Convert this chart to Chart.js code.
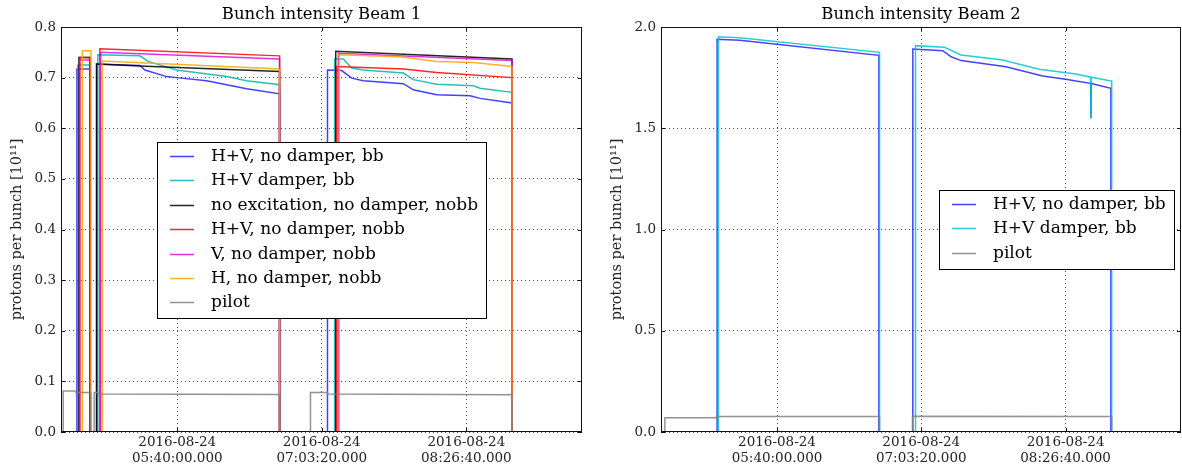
<!DOCTYPE html>
<html>
<head>
<meta charset="utf-8">
<script src="https://cdn.jsdelivr.net/npm/chart.js@4.4.0/dist/chart.umd.min.js"></script>
<style>
  body { margin: 0; background: #fff; }
  .row { display: flex; width: 1182px; height: 470px; }
  canvas { display: block; }
</style>
</head>
<body>
<div class="row">
  <canvas id="beam1" width="600" height="470"></canvas>
  <canvas id="beam2" width="582" height="470"></canvas>
</div>
<script>
// time axis, all times on 2016-08-24
const xRange = ['04:33:00', '09:33:20'];
const xTicks = ['05:40:00', '07:03:20', '08:26:40'];
const tickDate = '2016-08-24';

// Beam 1: [time, protons per bunch in 1e11]
const b1HVNoDamperBB = [
  ['04:34:16', 0], ['04:42:10', 0], ['04:42:10', 0.717], ['04:49:39', 0.717], ['04:49:39', 0],
  ['04:53:31', 0], ['04:53:31', 0.727], ['05:18:29', 0.724], ['05:21:22', 0.715], ['05:33:53', 0.702],
  ['05:39:39', 0.700], ['05:56:57', 0.694], ['06:08:29', 0.686], ['06:20:01', 0.678], ['06:39:00', 0.668],
  ['06:39:00', 0], ['07:06:37', 0], ['07:06:37', 0.715], ['07:14:48', 0.714], ['07:20:34', 0.699],
  ['07:27:16', 0.694], ['07:50:20', 0.688], ['07:56:06', 0.676], ['08:09:35', 0.666], ['08:28:47', 0.664],
  ['08:34:33', 0.659], ['08:53:00', 0.650], ['08:53:00', 0]
];
const b1HVDamperBB = [
  ['04:34:16', 0], ['04:42:45', 0], ['04:42:45', 0.725], ['04:49:39', 0.725], ['04:49:39', 0],
  ['04:54:16', 0], ['04:54:16', 0.745], ['05:18:29', 0.743], ['05:23:17', 0.732], ['05:39:39', 0.715],
  ['06:08:29', 0.702], ['06:20:01', 0.694], ['06:39:00', 0.686], ['06:39:00', 0],
  ['07:10:43', 0], ['07:10:43', 0.737], ['07:15:44', 0.737], ['07:20:34', 0.719], ['07:27:16', 0.715],
  ['07:50:20', 0.709], ['07:56:06', 0.696], ['08:09:35', 0.687], ['08:30:42', 0.684], ['08:34:33', 0.679],
  ['08:53:00', 0.671], ['08:53:00', 0]
];
const b1NoExcitation = [
  ['04:34:16', 0], ['04:43:19', 0], ['04:43:19', 0.740], ['04:49:39', 0.740], ['04:49:39', 0],
  ['04:53:31', 0], ['04:53:31', 0.727], ['05:18:29', 0.723], ['05:40:35', 0.720], ['06:39:00', 0.712], ['06:39:00', 0],
  ['07:11:21', 0], ['07:11:21', 0.752], ['08:53:00', 0.737], ['08:53:00', 0], ['09:03:58', 0]
];
const b1HVNoDamperNoBB = [
  ['04:34:16', 0], ['04:43:54', 0], ['04:43:54', 0.740], ['04:49:39', 0.740], ['04:49:39', 0],
  ['04:55:25', 0], ['04:55:25', 0.757], ['06:39:00', 0.743], ['06:39:00', 0],
  ['07:11:55', 0], ['07:11:55', 0.722], ['07:50:20', 0.717], ['08:09:35', 0.710], ['08:53:00', 0.700], ['08:53:00', 0]
];
const b1VNoDamper = [
  ['04:34:16', 0], ['04:43:40', 0], ['04:43:40', 0.735], ['04:49:39', 0.735], ['04:49:39', 0],
  ['04:55:50', 0], ['04:55:50', 0.750], ['06:39:00', 0.737], ['06:39:00', 0],
  ['07:12:51', 0], ['07:12:51', 0.748], ['08:53:00', 0.734], ['08:53:00', 0]
];
const b1HNoDamper = [
  ['04:34:16', 0], ['04:45:20', 0], ['04:45:20', 0.753], ['04:50:14', 0.753], ['04:50:14', 0],
  ['04:56:52', 0], ['04:56:52', 0.733], ['06:39:00', 0.717], ['06:39:00', 0],
  ['07:13:25', 0], ['07:13:25', 0.745], ['07:48:25', 0.741], ['08:09:35', 0.732], ['08:30:42', 0.730],
  ['08:53:00', 0.722], ['08:53:00', 0]
];
const b1Pilot = [
  ['04:34:16', 0], ['04:34:16', 0.081], ['04:41:35', 0.081], ['04:41:35', 0.078], ['04:50:14', 0.078], ['04:50:14', 0],
  ['04:52:08', 0], ['04:52:08', 0.078], ['04:54:16', 0.078], ['04:54:16', 0.075], ['06:39:00', 0.074], ['06:39:00', 0],
  ['06:56:49', 0], ['06:56:49', 0.078], ['07:06:37', 0.078], ['07:06:37', 0.075], ['08:53:00', 0.0735], ['08:53:00', 0]
];

// Beam 2
const b2HVNoDamperBB = [
  ['04:35:14', 0], ['05:05:24', 0], ['05:05:24', 1.939], ['05:18:29', 1.934], ['06:38:49', 1.860], ['06:38:49', 0],
  ['06:58:26', 0], ['06:58:26', 1.891], ['07:15:44', 1.883], ['07:20:34', 1.853], ['07:26:20', 1.834],
  ['07:52:17', 1.804], ['08:13:24', 1.758], ['08:26:53', 1.742], ['08:32:39', 1.733], ['08:41:08', 1.722],
  ['08:41:18', 1.55], ['08:41:28', 1.721], ['08:52:50', 1.697], ['08:52:50', 0]
];
const b2HVDamperBB = [
  ['04:35:14', 0], ['05:06:12', 0], ['05:06:12', 1.952], ['05:18:29', 1.947], ['06:39:13', 1.875], ['06:39:13', 0],
  ['07:00:00', 0], ['07:00:00', 1.908], ['07:16:42', 1.900], ['07:26:20', 1.862], ['07:50:20', 1.837],
  ['08:11:29', 1.791], ['08:32:39', 1.768], ['08:41:08', 1.752], ['08:41:18', 1.55], ['08:41:28', 1.752],
  ['08:53:18', 1.733], ['08:53:18', 0], ['09:04:50', 0]
];
const b2Pilot = [
  ['04:35:14', 0], ['04:35:14', 0.070], ['05:05:03', 0.070], ['05:05:03', 0.077], ['06:39:13', 0.077], ['06:39:13', 0],
  ['06:58:15', 0], ['06:58:15', 0.078], ['08:53:18', 0.076], ['08:53:18', 0]
];

const beam1Labels = ['H+V, no damper, bb', 'H+V damper, bb', 'no excitation, no damper, nobb',
  'H+V, no damper, nobb', 'V, no damper, nobb', 'H, no damper, nobb', 'pilot'];
const beam2Labels = ['H+V, no damper, bb', 'H+V damper, bb', 'pilot'];

const FONT = '"DejaVu Serif", serif';
Chart.defaults.font.family = FONT;
Chart.defaults.color = '#222';

function toSec(hms) {
  const [h, m, s] = hms.split(':').map(Number);
  return h * 3600 + m * 60 + s;
}
function pad(n) { return String(n).padStart(2, '0'); }
function fmtTime(sec) {
  return pad(Math.floor(sec / 3600)) + ':' + pad(Math.floor(sec % 3600 / 60)) + ':' + pad(sec % 60) + '.000';
}

// frame around plot area + inward ticks + title centred over the axes
const framePlugin = {
  id: 'frame',
  afterDatasetsDraw(chart, args, opts) {
    const {ctx, chartArea: a, scales} = chart;
    ctx.save();
    ctx.strokeStyle = '#111';
    ctx.lineWidth = 1;
    ctx.strokeRect(a.left + 0.5, a.top + 0.5, a.width - 1, a.height - 1);
    ctx.beginPath();
    scales.x.ticks.forEach(t => {
      const px = Math.round(scales.x.getPixelForValue(t.value)) + 0.5;
      ctx.moveTo(px, a.bottom); ctx.lineTo(px, a.bottom - 4);
      ctx.moveTo(px, a.top); ctx.lineTo(px, a.top + 4);
    });
    scales.y.ticks.forEach(t => {
      const py = Math.round(scales.y.getPixelForValue(t.value)) + 0.5;
      ctx.moveTo(a.left, py); ctx.lineTo(a.left + 4, py);
      ctx.moveTo(a.right, py); ctx.lineTo(a.right - 4, py);
    });
    ctx.stroke();

    ctx.fillStyle = '#000';
    ctx.font = '16.5px ' + FONT;
    ctx.textAlign = 'center';
    ctx.textBaseline = 'middle';
    ctx.fillText(opts.title, (a.left + a.right) / 2, 14.5);
    ctx.restore();
  }
};

// boxed legend inside the plot area
const legendBoxPlugin = {
  id: 'legendBox',
  afterDraw(chart, args, opts) {
    const {ctx, chartArea: a} = chart;
    const sets = chart.data.datasets;
    const rowH = 24.4;
    ctx.save();
    ctx.font = '17px ' + FONT;
    const textW = Math.max(...sets.map(d => ctx.measureText(d.label).width));
    const w = Math.round(textW + 62);
    const h = Math.round(30 + (sets.length - 1) * rowH);
    const x = Math.round(opts.align === 'right' ? a.right - 7 - w : (a.left + a.right - w) / 2);
    const y = Math.round((a.top + a.bottom - h) / 2);
    ctx.fillStyle = '#fff';
    ctx.fillRect(x, y, w, h);
    ctx.strokeStyle = '#000';
    ctx.lineWidth = 1;
    ctx.strokeRect(x + 0.5, y + 0.5, w, h);
    sets.forEach((d, i) => {
      const cy = Math.round(y + 14 + i * rowH) + 0.5;
      ctx.strokeStyle = d.borderColor;
      ctx.lineWidth = 1.5;
      ctx.beginPath();
      ctx.moveTo(x + 13, cy);
      ctx.lineTo(x + 37, cy);
      ctx.stroke();
      ctx.fillStyle = '#000';
      ctx.textBaseline = 'middle';
      ctx.fillText(d.label, x + 54, cy);
    });
    ctx.restore();
  }
};

function makeChart(id, title, labels, series, colors, yMax, yStep, legendAlign, padRight) {
  const datasets = series.map((s, i) => ({
    label: labels[i],
    data: s.map(p => ({x: toSec(p[0]), y: p[1]})),
    borderColor: colors[i],
    borderWidth: 1.5,
    pointRadius: 0,
    fill: false,
    tension: 0,
    order: series.length - i
  }));
  return new Chart(document.getElementById(id), {
    type: 'line',
    data: {datasets},
    options: {
      responsive: false,
      animation: false,
      layout: {padding: {left: 0, right: padRight, top: 27, bottom: 0}},
      plugins: {
        legend: {display: false},
        tooltip: {enabled: false},
        title: {display: false},
        frame: {title},
        legendBox: {align: legendAlign}
      },
      scales: {
        x: {
          type: 'linear',
          min: toSec(xRange[0]),
          max: toSec(xRange[1]),
          afterBuildTicks: scale => { scale.ticks = xTicks.map(t => ({value: toSec(t)})); },
          afterFit: scale => { scale.height = 38; },
          grid: {color: 'rgba(0,0,0,0.7)', lineWidth: 1, drawTicks: false},
          border: {display: false, dash: [1, 3]},
          ticks: {
            padding: 2,
            maxRotation: 0,
            autoSkip: false,
            color: '#222',
            font: {size: 13.5, lineHeight: 1.23},
            callback: v => [tickDate, fmtTime(v)]
          }
        },
        y: {
          min: 0,
          max: yMax,
          afterFit: scale => { scale.width = 61; },
          grid: {color: 'rgba(0,0,0,0.7)', lineWidth: 1, drawTicks: false},
          border: {display: false, dash: [1, 3]},
          ticks: {
            stepSize: yStep,
            padding: 5,
            color: '#222',
            font: {size: 13.5},
            callback: v => v.toFixed(1)
          },
          title: {
            display: true,
            text: 'protons per bunch [10¹¹]',
            color: '#222',
            font: {size: 14.5},
            padding: {top: 9, bottom: 0}
          }
        }
      }
    },
    plugins: [framePlugin, legendBoxPlugin]
  });
}

makeChart('beam1', 'Bunch intensity Beam 1', beam1Labels,
  [b1HVNoDamperBB, b1HVDamperBB, b1NoExcitation, b1HVNoDamperNoBB, b1VNoDamper, b1HNoDamper, b1Pilot],
  ['rgba(0,0,255,0.75)', 'rgba(0,180,170,0.85)', 'rgba(0,0,0,0.85)', 'rgba(255,0,0,0.85)',
   'rgba(215,0,215,0.8)', 'rgba(255,165,0,0.85)', 'rgba(128,128,128,0.85)'],
  0.8, 0.1, 'center', 18);

makeChart('beam2', 'Bunch intensity Beam 2', beam2Labels,
  [b2HVNoDamperBB, b2HVDamperBB, b2Pilot],
  ['rgba(20,20,255,0.8)', 'rgba(0,195,210,0.85)', 'rgba(128,128,128,0.85)'],
  2.0, 0.5, 'right', 1);
</script>
</body>
</html>
